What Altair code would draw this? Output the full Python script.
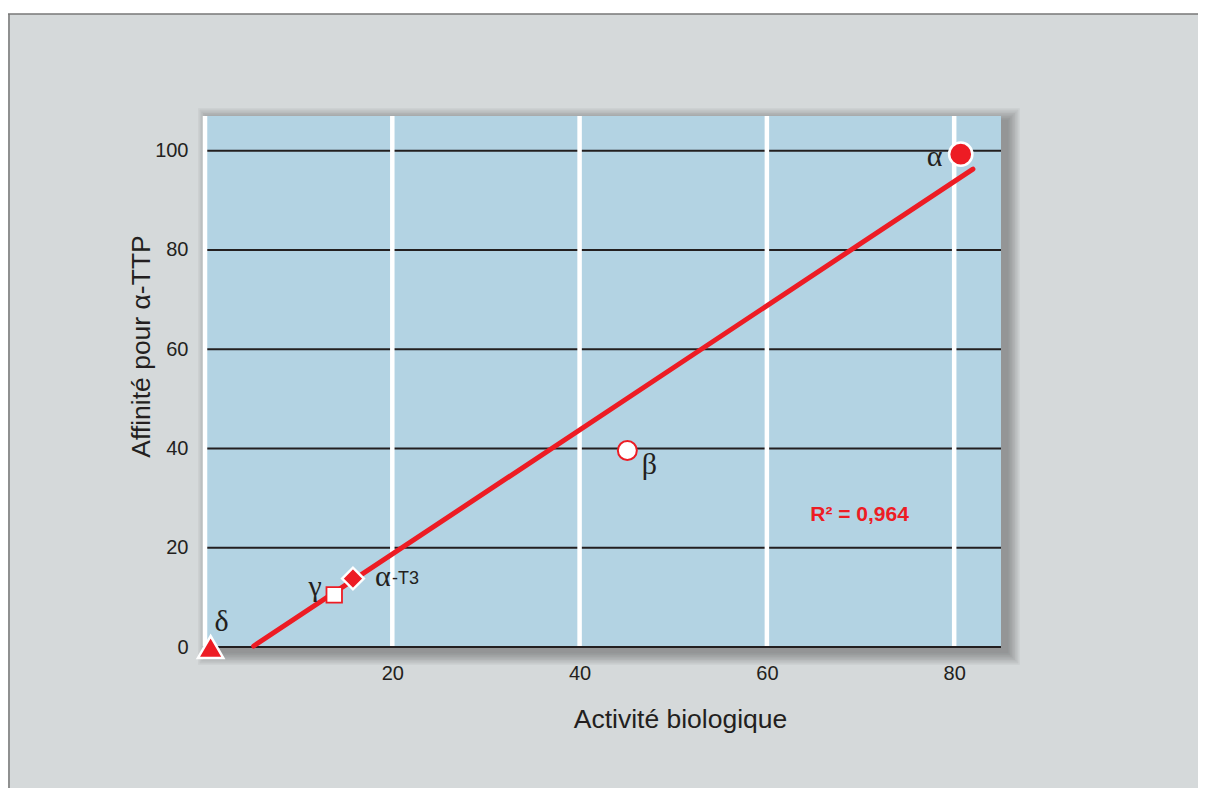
import altair as alt
import pandas as pd

# ---- data ----
names = ["α", "β", "γ", "δ", "α-T3"]
activite = [80.7, 45.1, 13.8, 0.6, 15.8]
affinite = [99.3, 39.6, 10.5, 0.0, 13.8]

fit_x = [5.2, 82.0]
fit_y = [0.2, 96.3]

x_ticks = [0, 20, 40, 60, 80]
x_labels = [20, 40, 60, 80]
y_ticks = [0, 20, 40, 60, 80, 100]

r2_text = "R² = 0,964"
r2_pos = (69.9, 26.6)

# ---- layout ----
W, H = 796, 531
PAD = {"left": 197, "top": 108, "right": 197, "bottom": 141}
RED = "#ed1c24"
INK = "#231f20"
BLUE = "#b3d3e3"
GRAY = "#d5d9da"
SANS = "Liberation Sans"
SERIF = "Liberation Serif"

pts = pd.DataFrame({"name": names, "x": activite, "y": affinite})
fit = pd.DataFrame({"x": fit_x, "y": fit_y})
one = pd.DataFrame({"k": [0]})

xs = alt.Scale(domain=[0, 85], nice=False, zero=False)
ys = alt.Scale(domain=[0, 107], nice=False, zero=False)

X = alt.X("x:Q", scale=xs, axis=alt.Axis(
    values=x_labels, grid=False, domain=False, ticks=False, tickSize=0, zindex=2,
    labelPadding=16, labelFontSize=20, labelFont=SANS, labelColor=INK,
    title="Activité biologique", titleFont=SANS, titleFontSize=26.5,
    titleFontWeight="normal", titleColor=INK, titleX=475, titleY=72,
    titleAlign="center", titleBaseline="middle"))
Y = alt.Y("y:Q", scale=ys, axis=alt.Axis(
    values=y_ticks, grid=False, domain=False, ticks=False, tickSize=0, zindex=2,
    labelPadding=17, labelFontSize=20, labelFont=SANS, labelColor=INK,
    title="Affinité pour α-TTP", titleFont=SANS, titleFontSize=26.5,
    titleFontWeight="normal", titleColor=INK, titleAngle=-90, titleX=-64,
    titleY=230, titleAlign="center", titleBaseline="middle"))

layers = []

# page background panel with top/left border
layers.append(alt.Chart(one).mark_rect(color=GRAY).encode(
    x=alt.value(-197), x2=alt.value(W + 197), y=alt.value(-102), y2=alt.value(H + 141)))
layers.append(alt.Chart(one).mark_rule(color="#777777", strokeWidth=1.5).encode(
    x=alt.value(-197), x2=alt.value(W + 197), y=alt.value(-102)))
layers.append(alt.Chart(one).mark_rule(color="#777777", strokeWidth=1.5).encode(
    x=alt.value(-196), y=alt.value(-102), y2=alt.value(H + 141)))

# soft drop shadow (offset to the lower right)
for i in range(1, 9):
    e = i * 1.6
    layers.append(alt.Chart(one).mark_rect(color="#2c3438", opacity=0.06).encode(
        x=alt.value(6 - e), x2=alt.value(W + 6 + e),
        y=alt.value(5 - e), y2=alt.value(H + 5 + e)))

# plot area
layers.append(alt.Chart(one).mark_rect(color=BLUE).encode(
    x=alt.value(0), x2=alt.value(W), y=alt.value(0), y2=alt.value(H)))

# horizontal black grid
hdf = pd.DataFrame({"y": y_ticks})
layers.append(alt.Chart(hdf).mark_rule(color=INK, strokeWidth=2.2).encode(
    x=alt.value(0), x2=alt.value(W), y=Y))

# vertical white grid
vdf = pd.DataFrame({"x": x_ticks})
layers.append(alt.Chart(vdf).mark_rule(color="white", strokeWidth=4.5).encode(
    x=X, y=alt.value(0), y2=alt.value(H - 1)))

# baseline again on top
layers.append(alt.Chart(hdf).transform_filter("datum.y == 0").mark_rule(
    color=INK, strokeWidth=2.2).encode(x=alt.value(0), x2=alt.value(W), y=Y))

# regression line
layers.append(alt.Chart(fit).mark_line(color=RED, strokeWidth=5, strokeCap="round").encode(
    x=X, y=Y))

# points
def P(name):
    return alt.Chart(pts).transform_filter(alt.datum.name == name)

layers.append(P("α").mark_point(shape="circle", filled=True, fill=RED, stroke="white",
                                 strokeWidth=2.5, size=540, opacity=1).encode(x=X, y=Y))
layers.append(P("β").mark_point(shape="circle", filled=True, fill="white", stroke=RED,
                                 strokeWidth=2, size=360, opacity=1).encode(x=X, y=Y))
layers.append(P("γ").mark_point(shape="square", filled=True, fill="white", stroke=RED,
                                 strokeWidth=1.8, size=240, opacity=1).encode(x=X, y=Y))
layers.append(P("δ").mark_point(shape="triangle-up", filled=True, fill=RED, stroke="white",
                                 strokeWidth=2.5, size=640, opacity=1).encode(x=X, y=Y))
layers.append(P("α-T3").mark_point(shape="diamond", filled=True, fill=RED, stroke="white",
                                    strokeWidth=2.5, size=470, opacity=1).encode(x=X, y=Y))

# point labels
def L(name, text, dx, dy, font=SERIF, size=30, align="center"):
    return P(name).mark_text(text=text, font=font, fontSize=size, color=INK,
                             dx=dx, dy=dy, align=align, baseline="middle").encode(x=X, y=Y)

layers.append(L("α", "α", -26, 3))
layers.append(L("β", "β", 22, 15))
layers.append(L("γ", "γ", -19, -8))
layers.append(L("δ", "δ", 11, -25))
layers.append(L("α-T3", "α", 22, -2, align="left"))
layers.append(L("α-T3", "-T3", 39, 0, font=SANS, size=18, align="left"))

# R² annotation
r2 = pd.DataFrame({"x": [r2_pos[0]], "y": [r2_pos[1]], "t": [r2_text]})
layers.append(alt.Chart(r2).mark_text(font=SANS, fontSize=21, fontWeight="bold", color=RED,
                                      align="center", baseline="middle").encode(
    x=X, y=Y, text="t:N"))

chart = alt.layer(*layers).properties(
    width=W, height=H, padding=PAD,
    autosize=alt.AutoSizeParams(type="none"),
    background="white",
).configure_view(stroke=None, fill=None)

chart.save("out.html", embed_options={"renderer": "svg", "actions": False})
